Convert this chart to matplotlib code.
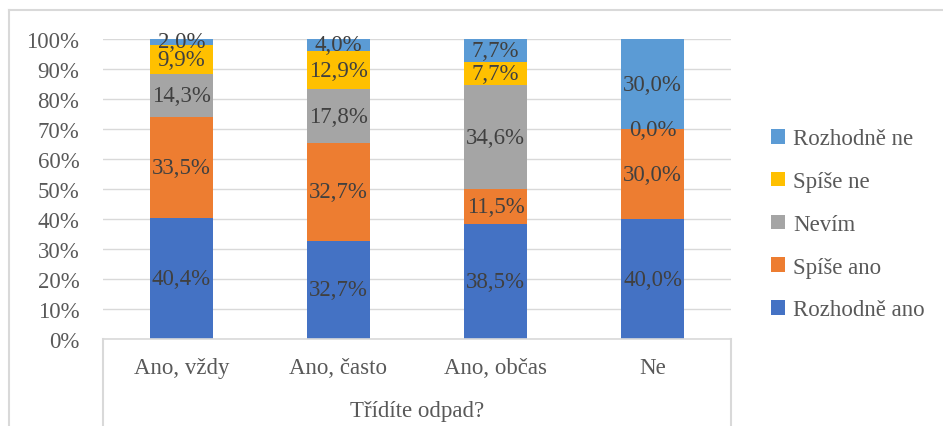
# Graf: 100% skladany sloupcovy graf - Tridite odpad?
import matplotlib.pyplot as plt
from matplotlib.lines import Line2D
import numpy as np

kategorie = ['Ano, vždy', 'Ano, často', 'Ano, občas', 'Ne']
serie = ['Rozhodně ano', 'Spíše ano', 'Nevím', 'Spíše ne', 'Rozhodně ne']

rozhodne_ano = [40.4, 32.7, 38.5, 40.0]
spise_ano = [33.5, 32.7, 11.5, 30.0]
nevim = [14.3, 17.8, 34.6, 0.0]
spise_ne = [9.9, 12.9, 7.7, 0.0]
rozhodne_ne = [2.0, 4.0, 7.7, 30.0]

barvy = ['#4472C4', '#ED7D31', '#A5A5A5', '#FFC000', '#5B9BD5']
seda = '#D9D9D9'
fs = 16.5

plt.rcParams['font.family'] = ['Liberation Serif', 'DejaVu Serif']

fig = plt.figure(figsize=(9.43, 4.27), dpi=100)
ax = fig.add_axes([0.1092, 0.2037, 0.666, 0.7026])

hodnoty = [rozhodne_ano, spise_ano, nevim, spise_ne, rozhodne_ne]
x = np.arange(len(kategorie))
spodek = np.zeros(len(kategorie))
for i, (nazev, h) in enumerate(zip(serie, hodnoty)):
    h = np.array(h)
    ax.bar(x, h / 100, bottom=spodek / 100, width=0.4, color=barvy[i], label=nazev, zorder=2)
    for j in range(len(x)):
        # nulovou hodnotu "Nevím" nepopisujeme, prekryva se s "Spíše ne"
        if h[j] == 0 and nazev == 'Nevím':
            continue
        stred = (spodek[j] + h[j] / 2) / 100
        ax.text(x[j], stred, f'{h[j]:.1f}%'.replace('.', ','), ha='center', va='center',
                fontsize=fs, color='#404040', zorder=3)
    spodek = spodek + h

ax.set_xlim(-0.5, len(kategorie) - 0.5)
ax.set_ylim(0, 1)
ax.set_yticks(np.arange(0, 1.01, 0.1))
ax.set_yticklabels([f'{int(round(v * 100))}%' for v in np.arange(0, 1.01, 0.1)])
ax.set_xticks(x)
ax.set_xticklabels(kategorie)
ax.tick_params(axis='both', length=0, labelsize=fs, colors='#595959')
ax.tick_params(axis='x', pad=13)
ax.tick_params(axis='y', pad=17)
ax.grid(axis='y', color=seda, linewidth=1, zorder=0)
for s in ['top', 'right', 'left']:
    ax.spines[s].set_visible(False)
ax.spines['bottom'].set_color(seda)
ax.spines['bottom'].set_linewidth(1.2)

ax.set_xlabel('Třídíte odpad?', fontsize=fs, color='#595959', labelpad=16)

# ramecek kategorii pod osou
for xx in [0, 1]:
    ax.add_line(Line2D([xx, xx], [0, -0.35], transform=ax.transAxes, color=seda,
                       linewidth=1.5, clip_on=False))

# okraj celeho grafu (jen vlevo a nahore)
fx = 9 / 943
fy = 1 - 11 / 427
fig.add_artist(Line2D([fx, fx], [0, fy], color=seda, linewidth=1.5))
fig.add_artist(Line2D([fx, 1], [fy, fy], color=seda, linewidth=1.5))

handles, labels = ax.get_legend_handles_labels()
fig.legend(handles[::-1], labels[::-1], loc='center left', bbox_to_anchor=(0.796, 0.472),
           frameon=False, fontsize=fs, labelcolor='#595959', handlelength=0.6,
           handleheight=0.6, handletextpad=0.35, labelspacing=0.95)

fig.savefig('out.png', dpi=100)
